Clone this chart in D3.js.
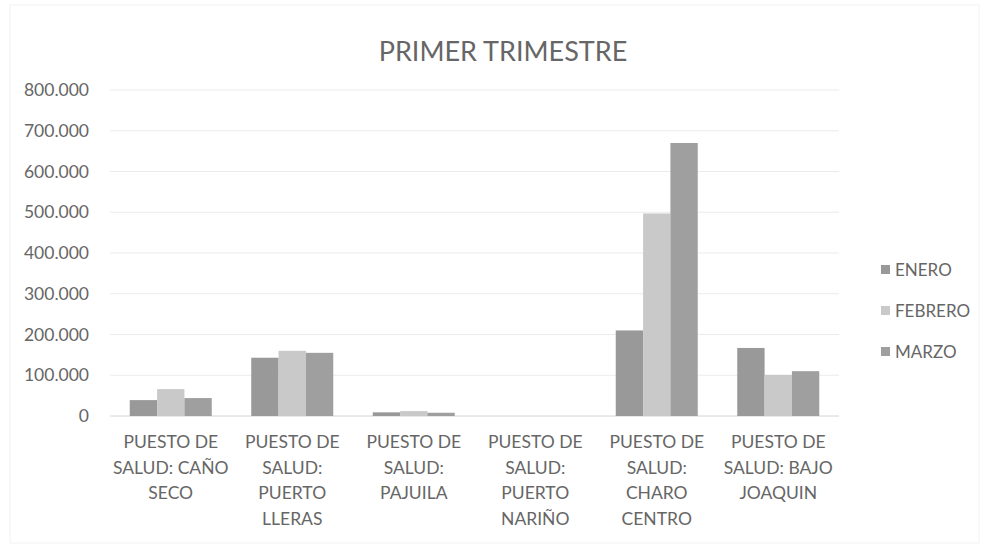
<!DOCTYPE html>
<html>
<head>
<meta charset="utf-8">
<script src="https://cdn.jsdelivr.net/npm/d3@7"></script>
<style>
  body { margin: 0; background: #fff; }
  text { font-family: Lato, "Open Sans", sans-serif; fill: #666666; }
</style>
</head>
<body>
<div id="chart"></div>
<script>
// data
const categories = [
  "PUESTO DE SALUD: CAÑO SECO",
  "PUESTO DE SALUD: PUERTO LLERAS",
  "PUESTO DE SALUD: PAJUILA",
  "PUESTO DE SALUD: PUERTO NARIÑO",
  "PUESTO DE SALUD: CHARO CENTRO",
  "PUESTO DE SALUD: BAJO JOAQUIN"
];
const categoryLines = [
  ["PUESTO DE", "SALUD: CAÑO", "SECO"],
  ["PUESTO DE", "SALUD:", "PUERTO", "LLERAS"],
  ["PUESTO DE", "SALUD:", "PAJUILA"],
  ["PUESTO DE", "SALUD:", "PUERTO", "NARIÑO"],
  ["PUESTO DE", "SALUD:", "CHARO", "CENTRO"],
  ["PUESTO DE", "SALUD: BAJO", "JOAQUIN"]
];
const seriesNames = ["ENERO", "FEBRERO", "MARZO"];
const enero   = [39000, 143000, 9000, 0, 210000, 167000];
const febrero = [66000, 160000, 12000, 0, 497000, 101000];
const marzo   = [44000, 155000, 8000, 0, 670000, 110000];
const yTicks  = [0, 100000, 200000, 300000, 400000, 500000, 600000, 700000, 800000];

const series = [enero, febrero, marzo];
const colors = ["#999999", "#c9c9c9", "#9f9f9f"];

const W = 989, H = 548;
const margin = {top: 90, right: 150, bottom: 132, left: 110};
const width = W - margin.left - margin.right,
      height = H - margin.top - margin.bottom;

const svg = d3.select("#chart")
  .append("svg")
    .attr("width", W)
    .attr("height", H);

// faint frame of the chart area
svg.append("rect")
  .attr("x", 10).attr("y", 5)
  .attr("width", W - 20).attr("height", H - 10)
  .attr("fill", "none")
  .attr("stroke", "#f2f2f2");

const g = svg.append("g")
  .attr("transform", `translate(${margin.left},${margin.top})`);

// scales
const x0 = d3.scaleBand()
  .domain(categories)
  .range([0, width])
  .paddingInner(0.325)
  .paddingOuter(0.1625);

const x1 = d3.scaleBand()
  .domain(seriesNames)
  .range([0, x0.bandwidth()]);

const y = d3.scaleLinear()
  .domain([0, 800000])
  .range([height, 0]);

const locale = d3.formatLocale({decimal: ",", thousands: ".", grouping: [3], currency: ["", ""]});
const fmt = locale.format(",");

// gridlines
g.append("g")
  .selectAll("line")
  .data(yTicks)
  .join("line")
    .attr("x1", 0)
    .attr("x2", width)
    .attr("y1", d => y(d))
    .attr("y2", d => y(d))
    .attr("stroke", d => d === 0 ? "#d4d4d4" : "#ebebeb")
    .attr("stroke-width", 1);

// y axis labels
const yAxis = g.append("g")
  .attr("transform", "translate(-18,0)")
  .call(d3.axisLeft(y).tickValues(yTicks).tickFormat(d => d === 0 ? "0" : fmt(d)).tickSize(0));
yAxis.select(".domain").remove();
yAxis.selectAll("text")
  .attr("font-size", 17.5)
  .style("font-family", "Lato, sans-serif")
  .attr("fill", "#666666");

// bars
const groups = g.append("g")
  .selectAll("g")
  .data(categories)
  .join("g")
    .attr("transform", d => `translate(${x0(d)},0)`);

groups.selectAll("rect")
  .data((d, i) => seriesNames.map((s, j) => ({key: s, value: series[j][i], color: colors[j]})))
  .join("rect")
    .attr("x", d => x1(d.key))
    .attr("y", d => y(d.value))
    .attr("width", x1.bandwidth())
    .attr("height", d => height - y(d.value))
    .attr("fill", d => d.color);

// x labels
const xl = g.append("g")
  .selectAll("text")
  .data(categories)
  .join("text")
    .attr("text-anchor", "middle")
    .attr("font-size", 17.5)
    .attr("x", d => x0(d) + x0.bandwidth() / 2)
    .attr("y", height + 32);

xl.selectAll("tspan")
  .data((d, i) => categoryLines[i])
  .join("tspan")
    .attr("x", function() { return this.parentNode.getAttribute("x"); })
    .attr("dy", (d, i) => i === 0 ? 0 : 25.5)
    .text(d => d);

// title
svg.append("text")
  .attr("x", 503)
  .attr("y", 61)
  .attr("text-anchor", "middle")
  .attr("font-size", 27)
  .text("PRIMER TRIMESTRE");

// legend
const legend = svg.append("g")
  .attr("transform", "translate(881,270)");

const li = legend.selectAll("g")
  .data(seriesNames)
  .join("g")
    .attr("transform", (d, i) => `translate(0,${i * 41})`);

li.append("rect")
  .attr("x", 0).attr("y", -5)
  .attr("width", 9).attr("height", 9)
  .attr("fill", (d, i) => colors[i]);

li.append("text")
  .attr("x", 14)
  .attr("y", 0)
  .attr("dy", "0.35em")
  .attr("font-size", 17)
  .text(d => d);
</script>
</body>
</html>
